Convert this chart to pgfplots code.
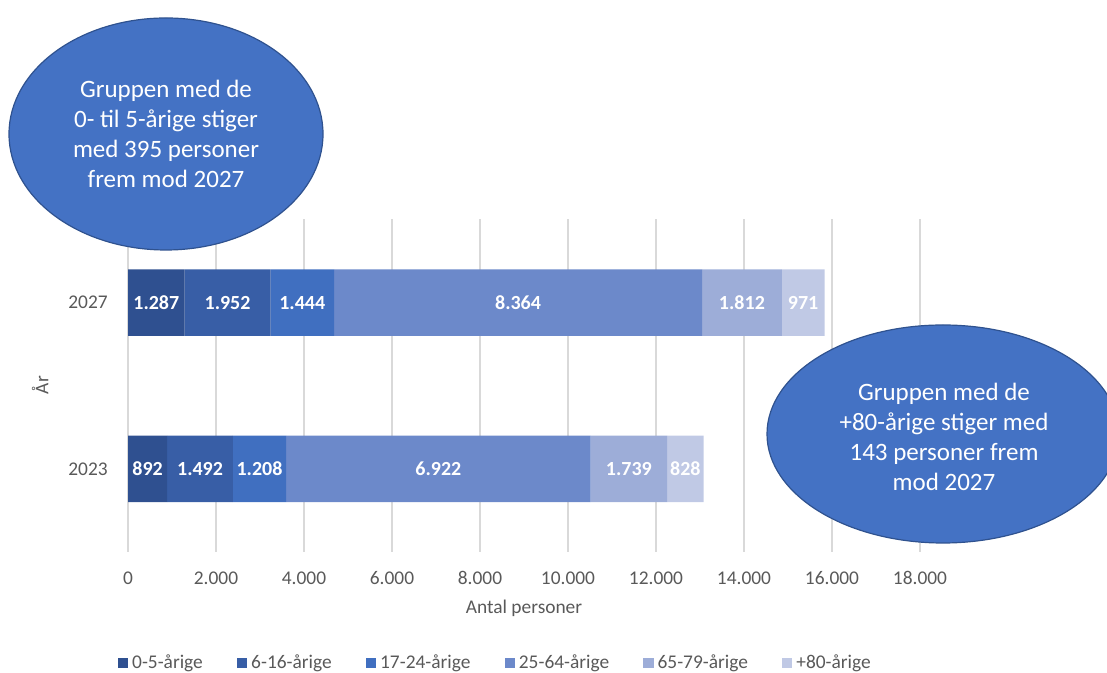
\documentclass[border=0pt]{standalone}
\usepackage{pgfplots}
\pgfplotsset{compat=1.18}
\usepackage{pgfplotstable}
\usepackage{fontspec}
\setmainfont{Carlito}
\definecolor{c1}{HTML}{2F5090}
\definecolor{c2}{HTML}{385EA6}
\definecolor{c3}{HTML}{406FC0}
\definecolor{c4}{HTML}{6C89CA}
\definecolor{c5}{HTML}{9DADD8}
\definecolor{c6}{HTML}{C0C9E5}
\definecolor{ell}{HTML}{4472C4}
\definecolor{elld}{HTML}{2F528F}
\definecolor{gridgray}{HTML}{D9D9D9}
\definecolor{txtgray}{HTML}{595959}
\pgfplotstableread{
y a b c d e f
0 892 1492 1208 6922 1739 828
1 1287 1952 1444 8364 1812 971
}\data
% midpoints of the stacked segments, for the value labels
\pgfplotstablecreatecol[create col/expr={\thisrow{a}/2}]{ma}{\data}
\pgfplotstablecreatecol[create col/expr={\thisrow{a}+\thisrow{b}/2}]{mb}{\data}
\pgfplotstablecreatecol[create col/expr={\thisrow{a}+\thisrow{b}+\thisrow{c}/2}]{mc}{\data}
\pgfplotstablecreatecol[create col/expr={\thisrow{a}+\thisrow{b}+\thisrow{c}+\thisrow{d}/2}]{md}{\data}
\pgfplotstablecreatecol[create col/expr={\thisrow{a}+\thisrow{b}+\thisrow{c}+\thisrow{d}+\thisrow{e}/2}]{me}{\data}
\pgfplotstablecreatecol[create col/expr={\thisrow{a}+\thisrow{b}+\thisrow{c}+\thisrow{d}+\thisrow{e}+\thisrow{f}/2}]{mf}{\data}
\pgfplotsset{
  common/.style={
    at={(64pt,60.5pt)}, anchor=south west,
    scale only axis, width=396pt, height=166.25pt,
    xmin=0, xmax=18000, ymin=-0.5, ymax=1.5,
    /pgf/number format/1000 sep={.},
    /pgf/number format/assume math mode=true,
    clip=false,
  }
}
\begin{document}
\begin{tikzpicture}
\path[use as bounding box] (0,0) rectangle (553.5pt,336.5pt);
\begin{axis}[
  common,
  xbar stacked, bar width=33.25pt,
  xtick={0,2000,...,18000},
  scaled x ticks=false,
  ytick={0,1}, yticklabels={2023,2027},
  xmajorgrids, major grid style={color=gridgray, line width=0.7pt},
  axis line style={draw=none},
  major tick length=0pt,
  ticklabel style={font=\fontsize{9.7}{11}\selectfont, text=txtgray},
  xticklabel style={anchor=center, yshift=-13pt},
  yticklabel style={anchor=center, xshift=-20pt},
  xlabel={Antal personer}, ylabel={År},
  label style={font=\fontsize{9.7}{11}\selectfont, text=txtgray},
  xlabel style={at={(axis description cs:0.5,-0.168)}, anchor=center},
  ylabel style={at={(axis description cs:-0.111,0.502)}, anchor=center},
  legend columns=6,
  legend style={draw=none, fill=none, at={(0.465,-0.334)}, anchor=center,
    font=\fontsize{9.7}{11}\selectfont, text=txtgray,
    /tikz/every even column/.append style={column sep=15pt}},
  legend image code/.code={\fill[#1] (0pt,-2.6pt) rectangle (5.2pt,2.6pt);},
]
\addplot[fill=c1, draw=none] table[x=a, y=y] {\data};
\addplot[fill=c2, draw=none] table[x=b, y=y] {\data};
\addplot[fill=c3, draw=none] table[x=c, y=y] {\data};
\addplot[fill=c4, draw=none] table[x=d, y=y] {\data};
\addplot[fill=c5, draw=none] table[x=e, y=y] {\data};
\addplot[fill=c6, draw=none] table[x=f, y=y] {\data};
\legend{0-5-årige, 6-16-årige, 17-24-årige, 25-64-årige, 65-79-årige, +80-årige}
\end{axis}
\begin{axis}[
  common, hide axis,
  nodes near coords, point meta=explicit,
  nodes near coords style={font=\bfseries\fontsize{10}{12}\selectfont, text=white, anchor=center},
]
\addplot[only marks, mark=none] table[x=ma, y=y, meta=a] {\data};
\addplot[only marks, mark=none] table[x=mb, y=y, meta=b] {\data};
\addplot[only marks, mark=none] table[x=mc, y=y, meta=c] {\data};
\addplot[only marks, mark=none] table[x=md, y=y, meta=d] {\data};
\addplot[only marks, mark=none] table[x=me, y=y, meta=e] {\data};
\addplot[only marks, mark=none] table[x=mf, y=y, meta=f] {\data};
\end{axis}
\draw[fill=ell, draw=elld, line width=0.6pt] (83pt,269.5pt) ellipse [x radius=78.5pt, y radius=58pt];
\node[align=center, text=white, font=\fontsize{12.5}{15}\selectfont] at (83pt,269.5pt)
  {Gruppen med de\\0- til 5-årige stiger\\med 395 personer\\frem mod 2027};
\draw[fill=ell, draw=elld, line width=0.6pt] (471.5pt,119.5pt) ellipse [x radius=88pt, y radius=54.5pt];
\node[align=center, text=white, font=\fontsize{12.5}{15}\selectfont] at (472pt,118pt)
  {Gruppen med de\\+80-årige stiger med\\143 personer frem\\mod 2027};
\end{tikzpicture}
\end{document}
